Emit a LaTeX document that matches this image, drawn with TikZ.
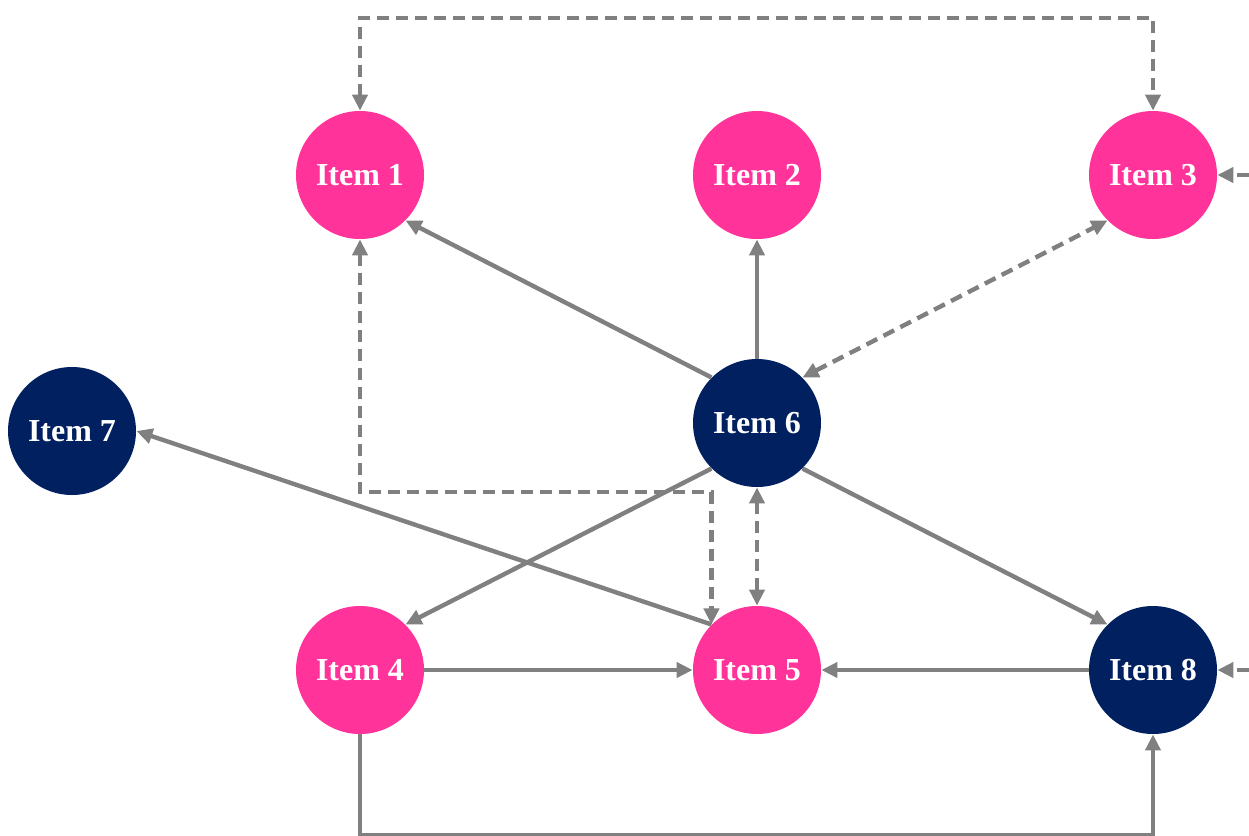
\documentclass[tikz,border=0pt]{standalone}
\usepackage{fontspec}
\setmainfont{Liberation Serif}
\usetikzlibrary{arrows.meta}
\definecolor{itempink}{RGB}{255,51,153}
\definecolor{itemnavy}{RGB}{0,32,96}
\definecolor{linkgrey}{RGB}{128,128,128}

\begin{document}
\begin{tikzpicture}[x=0.5pt,y=-0.5pt,>={Triangle[length=8pt,width=7.5pt]},
    item/.style={circle,minimum size=64pt,inner sep=0pt,text=white,
      font=\fontsize{16pt}{18pt}\selectfont\bfseries},
    pinkitem/.style={item,fill=itempink},
    navyitem/.style={item,fill=itemnavy},
    link/.style={draw=linkgrey,line width=2.2pt},
    dlink/.style={link,dash pattern=on 6pt off 3.5pt}]
      %%
      \useasboundingbox (0,0) rectangle (1249,836);
      \node (i1) at (360,175) [pinkitem] {Item 1};
      \node (i2) at (757,175) [pinkitem] {Item 2};
      \node (i3) at (1153,175) [pinkitem] {Item 3};
      \node (i6) at (757,423) [navyitem] {Item 6};
      \node (i7) at (72,431) [navyitem] {Item 7};
      \node (i4) at (360,670) [pinkitem] {Item 4};
      \node (i5) at (757,670) [pinkitem] {Item 5};
      \node (i8) at (1153,670) [navyitem] {Item 8};
      \coordinate (top) at (0,18);
      \coordinate (bend) at (0,492);
      \coordinate (bottom) at (0,835);
      \coordinate (r3) at (1249,175);
      \coordinate (r8) at (1249,670);
      %% solid links
      \draw [link,->] (i6.135) -- (i1.315);
      \draw [link,->] (i6.north) -- (i2.south);
      \draw [link,->] (i6.225) -- (i4.45);
      \draw [link,->] (i6.315) -- (i8.135);
      \draw [link,->] (i5.135) -- (i7.east);
      \draw [link,->] (i4.east) -- (i5.west);
      \draw [link,->] (i8.west) -- (i5.east);
      \draw [link,->] (i4.south) -- (i4.south |- bottom) -- (i8.south |- bottom) -- (i8.south);
      %% dashed links
      \draw [dlink,<->] (i1.north) -- (i1.north |- top) -- (i3.north |- top) -- (i3.north);
      \draw [dlink,<->] (i6.45) -- (i3.225);
      \draw [dlink,<->] (i6.south) -- (i5.north);
      \draw [dlink,<->] (i1.south) -- (i1.south |- bend) -- (i5.135 |- bend) -- (i5.135);
      \draw [dlink,->] (r3) -- (i3.east);
      \draw [dlink,->] (r8) -- (i8.east);
\end{tikzpicture}
\end{document}
